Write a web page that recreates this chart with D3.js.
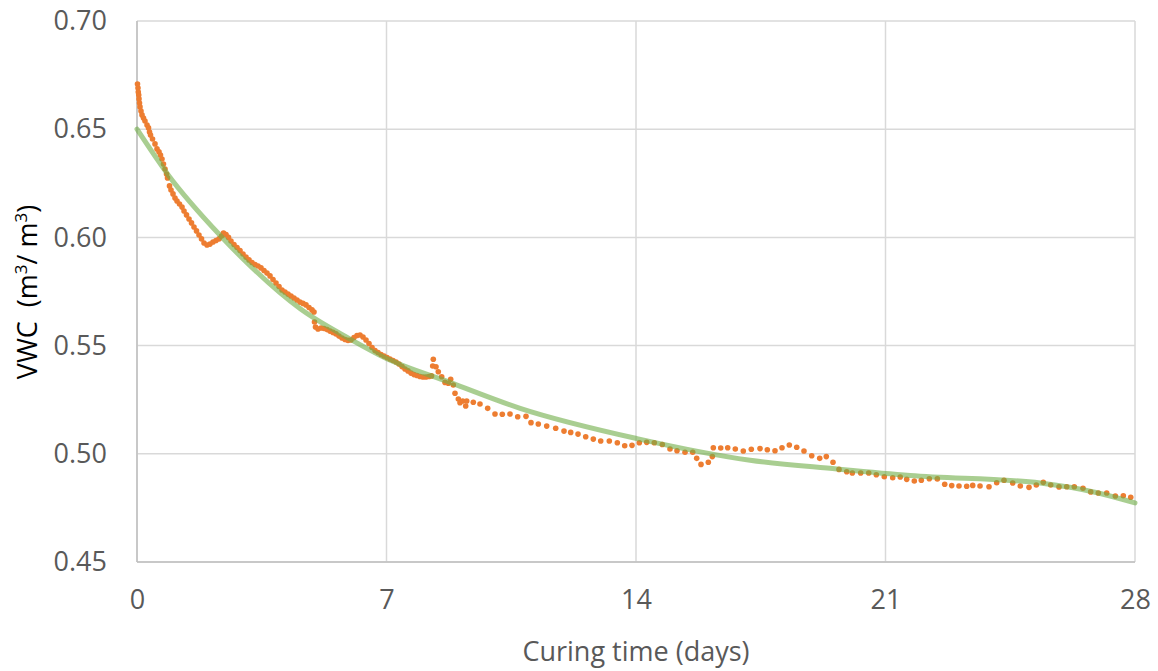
<!DOCTYPE html>
<html>
<head>
<meta charset="utf-8">
<script src="https://cdn.jsdelivr.net/npm/d3@7"></script>
<style>
  html, body { margin: 0; padding: 0; background: #fff; }
  svg { display: block; }
  text { font-family: "Open Sans", "Noto Sans", sans-serif; }
</style>
</head>
<body>
<svg id="chart" width="1158" height="671"></svg>
<script>
// ---- Data ----
const xTicks = [0, 7, 14, 21, 28];
const yTicks = [0.45, 0.50, 0.55, 0.60, 0.65, 0.70];
const xTitle = "Curing time (days)";

// Measured VWC (days, m3/m3)
const measuredDays = [
  0.014,0.028,0.036,0.048,0.056,0.070,0.084,0.112,0.140,0.182,0.224,0.281,0.323,0.351,0.379,0.435,0.505,0.561,0.617,0.659,
  0.701,0.743,0.786,0.828,0.856,0.912,0.954,1.010,1.066,1.122,1.192,1.263,1.319,1.389,1.459,1.529,1.599,1.669,1.739,1.810,
  1.880,1.964,2.048,2.132,2.216,2.301,2.371,2.427,2.497,2.567,2.637,2.721,2.806,2.890,2.974,3.058,3.142,3.226,3.311,3.395,
  3.479,3.563,3.647,3.732,3.816,3.900,3.984,4.068,4.152,4.237,4.321,4.405,4.489,4.573,4.657,4.742,4.826,4.910,4.966,4.980,
  5.008,5.078,5.162,5.247,5.331,5.415,5.499,5.583,5.667,5.752,5.836,5.920,6.004,6.088,6.172,6.257,6.341,6.425,6.509,6.593,
  6.678,6.762,6.846,6.930,7.014,7.098,7.183,7.267,7.351,7.435,7.519,7.603,7.687,7.772,7.856,7.940,8.024,8.108,8.192,8.263,
  8.313,8.296,8.389,8.453,8.549,8.641,8.734,8.801,8.874,8.922,9.015,9.062,9.138,9.222,9.250,9.435,9.623,9.839,10.044,10.249,
  10.465,10.681,10.914,11.054,11.259,11.495,11.747,11.980,12.168,12.373,12.589,12.802,13.010,13.251,13.476,13.683,13.888,14.093,14.300,14.513,
  14.738,14.954,15.150,15.375,15.591,15.703,15.824,16.029,16.141,16.169,16.377,16.573,16.786,17.010,17.235,17.479,17.684,17.900,18.096,18.301,
  18.509,18.713,18.930,19.154,19.339,19.527,19.696,19.912,20.069,20.304,20.529,20.742,20.966,21.202,21.413,21.595,21.808,22.005,22.229,22.454,
  22.661,22.858,23.062,23.278,23.447,23.652,23.904,24.120,24.325,24.569,24.782,25.026,25.231,25.427,25.635,25.868,26.084,26.297,26.541,26.757,
  26.970,27.206,27.448,27.672,27.880
];
const measuredVWC = [
  0.6709,0.6690,0.6672,0.6658,0.6640,0.6621,0.6603,0.6584,0.6566,0.6552,0.6538,0.6519,0.6506,0.6487,0.6473,0.6455,0.6432,0.6409,0.6395,0.6381,
  0.6362,0.6339,0.6316,0.6293,0.6275,0.6238,0.6219,0.6201,0.6182,0.6168,0.6154,0.6140,0.6122,0.6104,0.6085,0.6067,0.6048,0.6030,0.6011,0.5993,
  0.5974,0.5965,0.5969,0.5979,0.5986,0.5993,0.6006,0.6020,0.6013,0.6000,0.5983,0.5967,0.5953,0.5939,0.5923,0.5909,0.5896,0.5884,0.5875,0.5868,
  0.5859,0.5847,0.5835,0.5822,0.5805,0.5789,0.5773,0.5757,0.5748,0.5738,0.5729,0.5720,0.5711,0.5701,0.5695,0.5688,0.5676,0.5665,0.5655,0.5609,
  0.5586,0.5577,0.5581,0.5579,0.5574,0.5567,0.5561,0.5554,0.5544,0.5535,0.5528,0.5524,0.5526,0.5537,0.5547,0.5549,0.5540,0.5526,0.5510,0.5491,
  0.5477,0.5468,0.5459,0.5452,0.5445,0.5438,0.5431,0.5424,0.5415,0.5403,0.5392,0.5383,0.5373,0.5366,0.5362,0.5357,0.5355,0.5355,0.5357,0.5360,
  0.5437,0.5406,0.5402,0.5379,0.5356,0.5330,0.5326,0.5344,0.5318,0.5280,0.5253,0.5236,0.5244,0.5221,0.5244,0.5238,0.5230,0.5210,0.5184,0.5183,
  0.5184,0.5171,0.5173,0.5144,0.5138,0.5128,0.5118,0.5105,0.5099,0.5091,0.5079,0.5068,0.5059,0.5059,0.5051,0.5037,0.5039,0.5051,0.5053,0.5051,
  0.5043,0.5022,0.5014,0.5007,0.5007,0.4979,0.4951,0.4961,0.4987,0.5028,0.5027,0.5028,0.5022,0.5013,0.5021,0.5024,0.5019,0.5014,0.5028,0.5041,
  0.5030,0.5013,0.4991,0.4979,0.4987,0.4961,0.4928,0.4917,0.4911,0.4911,0.4911,0.4903,0.4894,0.4889,0.4893,0.4882,0.4874,0.4878,0.4885,0.4884,
  0.4859,0.4853,0.4851,0.4850,0.4854,0.4851,0.4848,0.4866,0.4878,0.4865,0.4851,0.4845,0.4856,0.4868,0.4856,0.4847,0.4848,0.4848,0.4841,0.4824,
  0.4819,0.4819,0.4805,0.4806,0.4799
];

// Fitted curve
const fitDays = [0, 0.87, 2.33, 2.95, 4.58, 5.98, 7.0, 8.78, 10.75, 14.03, 17.2, 19.64, 21.69, 25.34, 26.94, 28];
const fitVWC  = [0.650, 0.629, 0.601, 0.5905, 0.567, 0.553, 0.544, 0.533, 0.521, 0.507, 0.497, 0.493, 0.490, 0.4865, 0.482, 0.4773];

// ---- Chart ----
const svg = d3.select("#chart");
const pL = 137, pR = 1135, pT = 21, pB = 562;
const x = d3.scaleLinear().domain([0, 28]).range([pL, pR]);
const y = d3.scaleLinear().domain([0.45, 0.70]).range([pB, pT]);
const textColor = "#595959";
const fontSize = "27px";

// gridlines
svg.append("g").selectAll("line").data(yTicks).join("line")
  .attr("x1", pL).attr("x2", pR)
  .attr("y1", d => y(d)).attr("y2", d => y(d))
  .attr("stroke", "#d9d9d9").attr("stroke-width", 1.5);
svg.append("g").selectAll("line").data(xTicks).join("line")
  .attr("y1", pT).attr("y2", pB)
  .attr("x1", d => x(d)).attr("x2", d => x(d))
  .attr("stroke", "#d9d9d9").attr("stroke-width", 1.5);
// axis lines
svg.append("line").attr("x1", pL).attr("x2", pL).attr("y1", pT).attr("y2", pB)
  .attr("stroke", "#bfbfbf").attr("stroke-width", 1.5);
svg.append("line").attr("x1", pL).attr("x2", pR).attr("y1", pB).attr("y2", pB)
  .attr("stroke", "#bfbfbf").attr("stroke-width", 1.5);

// axes labels via d3 axes
const yAxis = d3.axisLeft(y).tickValues(yTicks).tickFormat(d3.format(".2f")).tickSize(0).tickPadding(30);
const gy = svg.append("g").attr("transform", `translate(${pL},0)`).call(yAxis);
gy.select(".domain").remove();
gy.selectAll("text").attr("fill", textColor).style("font-size", fontSize)
  .style("font-family", '"Open Sans", sans-serif');

const xAxis = d3.axisBottom(x).tickValues(xTicks).tickFormat(d3.format("d")).tickSize(0).tickPadding(28);
const gx = svg.append("g").attr("transform", `translate(0,${pB})`).call(xAxis);
gx.select(".domain").remove();
gx.selectAll("text").attr("fill", textColor).style("font-size", fontSize)
  .style("font-family", '"Open Sans", sans-serif');

// measured dots
const pts = measuredDays.map((d, i) => [d, measuredVWC[i]]);
svg.append("g").selectAll("circle").data(pts).join("circle")
  .attr("cx", d => x(d[0])).attr("cy", d => y(d[1])).attr("r", 2.8)
  .attr("fill", "#ED7D31");

// fitted curve
const fit = fitDays.map((d, i) => [d, fitVWC[i]]);
svg.append("path").datum(fit)
  .attr("d", d3.line().x(d => x(d[0])).y(d => y(d[1])).curve(d3.curveMonotoneX))
  .attr("fill", "none").attr("stroke", "#70AD47").attr("stroke-opacity", 0.6)
  .attr("stroke-width", 5).attr("stroke-linecap", "round");

// axis titles
svg.append("text").attr("x", 636).attr("y", 661)
  .attr("text-anchor", "middle").attr("fill", textColor).style("font-size", fontSize)
  .text(xTitle);

const yt = svg.append("text").attr("transform", "translate(37,292) rotate(-90)")
  .attr("text-anchor", "middle").attr("fill", "#000").style("font-size", fontSize);
yt.append("tspan").text("VWC\u00A0\u00A0(m");
yt.append("tspan").attr("dy", -10).style("font-size", "17px").text("3");
yt.append("tspan").attr("dy", 10).text("/ m");
yt.append("tspan").attr("dy", -10).style("font-size", "17px").text("3");
yt.append("tspan").attr("dy", 10).text(")");
</script>
</body>
</html>
